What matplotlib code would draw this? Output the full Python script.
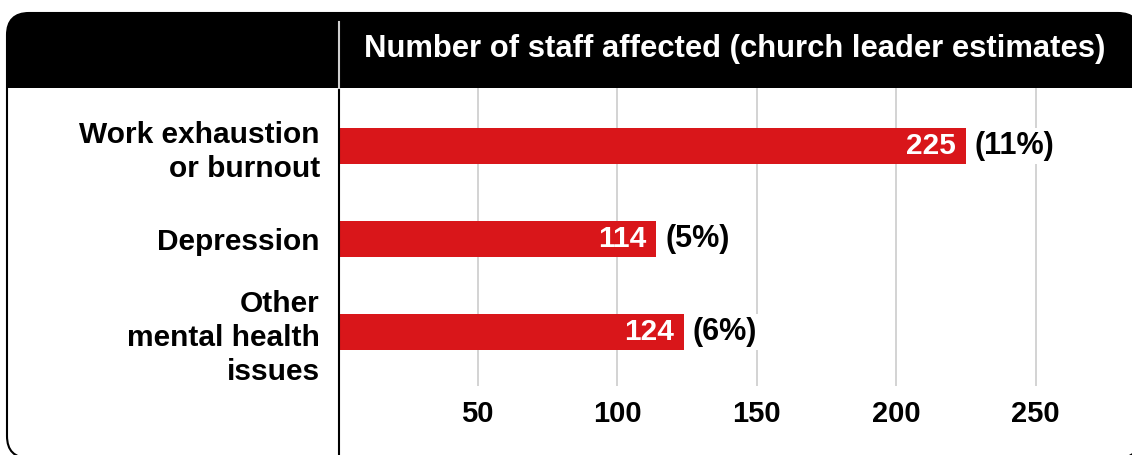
import matplotlib
matplotlib.use('Agg')
import matplotlib.pyplot as plt
from matplotlib.patches import FancyBboxPatch, Rectangle
from matplotlib.lines import Line2D

categories = ["Work exhaustion\nor burnout", "Depression", "Other\nmental health\nissues"]
values = [225, 114, 124]
percent_labels = ["(11%)", "(5%)", "(6%)"]
x_ticks = [50, 100, 150, 200, 250]
title = "Number of staff affected (church leader estimates)"

plt.rcParams['font.family'] = ['Liberation Sans', 'DejaVu Sans']
plt.rcParams['font.weight'] = 'bold'

W, H = 1132, 455
fig = plt.figure(figsize=(W / 100, H / 100), dpi=100)
tr = fig.dpi_scale_trans

# outer rounded frame
outer = FancyBboxPatch((0.07, -0.03), 11.33, 4.45,
                       boxstyle="round,pad=0,rounding_size=0.22",
                       transform=tr, facecolor='white', edgecolor='black',
                       linewidth=1.5, zorder=-3)
fig.add_artist(outer)
header = Rectangle((0, 3.67), 11.6, 0.9, transform=tr, facecolor='black',
                   edgecolor='none', zorder=-2)
fig.add_artist(header)
header.set_clip_path(outer)

# divider lines
fig.add_artist(Line2D([3.385, 3.385], [-0.1, 3.67], transform=tr, color='black', lw=1.5, zorder=5))
fig.add_artist(Line2D([3.385, 3.385], [3.67, 4.33], transform=tr, color='#cfcfcf', lw=1.5, zorder=5))

fig.text(735 / W, (H - 49) / H, title, color='white', ha='center', va='center',
         fontsize=22.3, fontweight='bold')

ax = fig.add_axes([338 / W, (H - 386) / H, (W - 338) / W, (386 - 88) / H])
ax.patch.set_visible(False)
for s in ax.spines.values():
    s.set_visible(False)

px_per_unit = 2.79
ax.set_xlim(0, (W - 338) / px_per_unit)
ax.set_ylim(2.58, -0.624)

ypos = list(range(len(categories)))
ax.barh(ypos, values, height=0.387, color='#d9161a', zorder=2)

ax.set_xticks(x_ticks)
ax.set_xticklabels([str(t) for t in x_ticks], fontsize=21, fontweight='bold')
ax.grid(axis='x', color='#cccccc', lw=1.2, zorder=0)
ax.set_axisbelow(True)
ax.tick_params(axis='x', length=0, pad=10)

ax.set_yticks(ypos)
ax.set_yticklabels(categories, fontsize=21.5, fontweight='bold', linespacing=1.28)
ax.tick_params(axis='y', length=0, pad=13)

for y, v, p in zip(ypos, values, percent_labels):
    ax.annotate(str(v), (v, y), xytext=(-7, 0), textcoords='offset points',
                ha='right', va='center', color='white', fontsize=21.5,
                fontweight='bold', zorder=3)
    ax.annotate(p, (v, y), xytext=(6.5, 0), textcoords='offset points',
                ha='left', va='center', color='black', fontsize=22,
                fontweight='bold', zorder=3,
                bbox=dict(facecolor='white', edgecolor='none', pad=2))

fig.savefig('out.png', dpi=100)
